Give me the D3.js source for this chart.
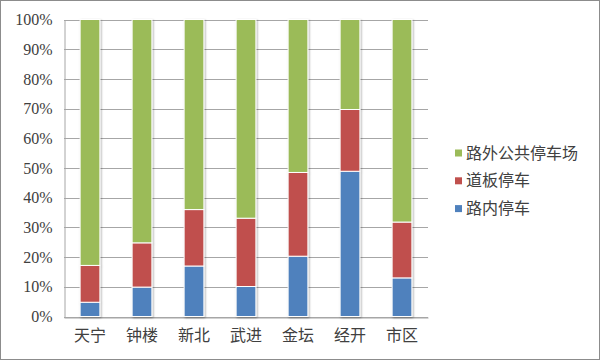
<!DOCTYPE html>
<html><head><meta charset="utf-8">
<script src="https://cdn.jsdelivr.net/npm/d3@7"></script>
<style>html,body{margin:0;padding:0;background:#fff;}svg{display:block;}
.yl text{font-family:"Liberation Serif","Times New Roman",serif !important;}
</style>
</head><body>
<svg id="c" width="600" height="360"></svg>
<script>
const categories = ["天宁","钟楼","新北","武进","金坛","经开","市区"];
const seriesNames = ["路内停车","道板停车","路外公共停车场"];
const onStreet = [4.8, 9.9, 17.0, 10.1, 20.3, 48.9, 13.0];
const sidewalk = [12.4, 14.9, 19.0, 23.0, 28.2, 20.8, 18.8];
const offStreet = [82.8, 75.2, 64.0, 66.9, 51.5, 30.3, 68.2];
const yTicks = [0,10,20,30,40,50,60,70,80,90,100];
const colors = ["#4F81BD","#C0504D","#9BBB59"];

const svg = d3.select("#c");
svg.append("rect").attr("x",0.5).attr("y",0.5).attr("width",599).attr("height",359)
  .attr("fill","#fff").attr("stroke","#8c8c8c").attr("stroke-width",1);

const L=64, R=428, T=19.5, B=316.5;
const x = d3.scaleBand().domain(categories).range([L,R]).paddingInner(0.62).paddingOuter(0.31);
const y = d3.scaleLinear().domain([0,100]).range([B,T]);

svg.append("g").selectAll("line").data(yTicks).join("line")
  .attr("x1",L).attr("x2",R)
  .attr("y1",d=>Math.round(y(d))+0.5).attr("y2",d=>Math.round(y(d))+0.5)
  .attr("stroke","#a6a6a6").attr("stroke-width",1);

const ya = svg.append("g").attr("class","yl").attr("transform",`translate(${L+0.5},0)`)
  .call(d3.axisLeft(y).tickValues(yTicks).tickFormat(d=>d+"%").tickSize(0).tickPadding(12));
ya.attr("font-family",null);
ya.select(".domain").attr("stroke","#a6a6a6");
ya.selectAll("text").style("font-family","'Liberation Serif','Times New Roman',serif")
  .attr("font-size",16).attr("fill","#404040");

const xa = svg.append("g").attr("transform",`translate(0,${Math.round(B)+0.5})`)
  .call(d3.axisBottom(x).tickSize(0).tickPadding(12));
xa.select(".domain").attr("stroke","#a6a6a6");
xa.selectAll("text").style("font-family","'Noto Sans CJK SC',sans-serif")
  .attr("font-size",16).attr("fill","#404040");

const rows = categories.map((c,i)=>({cat:c, s0:onStreet[i], s1:sidewalk[i], s2:offStreet[i]}));
const stack = d3.stack().keys(["s0","s1","s2"])(rows);

const defs = svg.append("defs");
const f = defs.append("filter").attr("id","sh").attr("x","-30%").attr("y","-5%").attr("width","160%").attr("height","110%");
f.append("feGaussianBlur").attr("in","SourceAlpha").attr("stdDeviation",1.2).attr("result","b");
f.append("feOffset").attr("in","b").attr("dx",0.5).attr("dy",0.5).attr("result","o");
f.append("feComponentTransfer").attr("in","o").attr("result","o2")
  .append("feFuncA").attr("type","linear").attr("slope",0.35);
const m = f.append("feMerge"); m.append("feMergeNode").attr("in","o2"); m.append("feMergeNode").attr("in","SourceGraphic");

svg.append("g").attr("filter","url(#sh)").selectAll("g").data(stack).join("g")
  .attr("fill",(d,i)=>colors[i])
  .selectAll("rect").data(d=>d).join("rect")
  .attr("x",d=>x(d.data.cat)).attr("width",x.bandwidth())
  .attr("y",d=>y(d[1])).attr("height",d=>y(d[0])-y(d[1]))
  .attr("stroke","#fff").attr("stroke-width",1);

const leg = svg.append("g");
[2,1,0].forEach((si,k)=>{
  const cy = 153 + k*27.8;
  leg.append("rect").attr("x",455).attr("y",cy-3.5).attr("width",7).attr("height",7).attr("fill",colors[si]);
  leg.append("text").attr("x",466).attr("y",cy).attr("dy","0.35em")
    .style("font-family","'Noto Sans CJK SC',sans-serif").attr("font-size",16).attr("fill","#404040")
    .text(seriesNames[si]);
});
</script>
</body></html>
